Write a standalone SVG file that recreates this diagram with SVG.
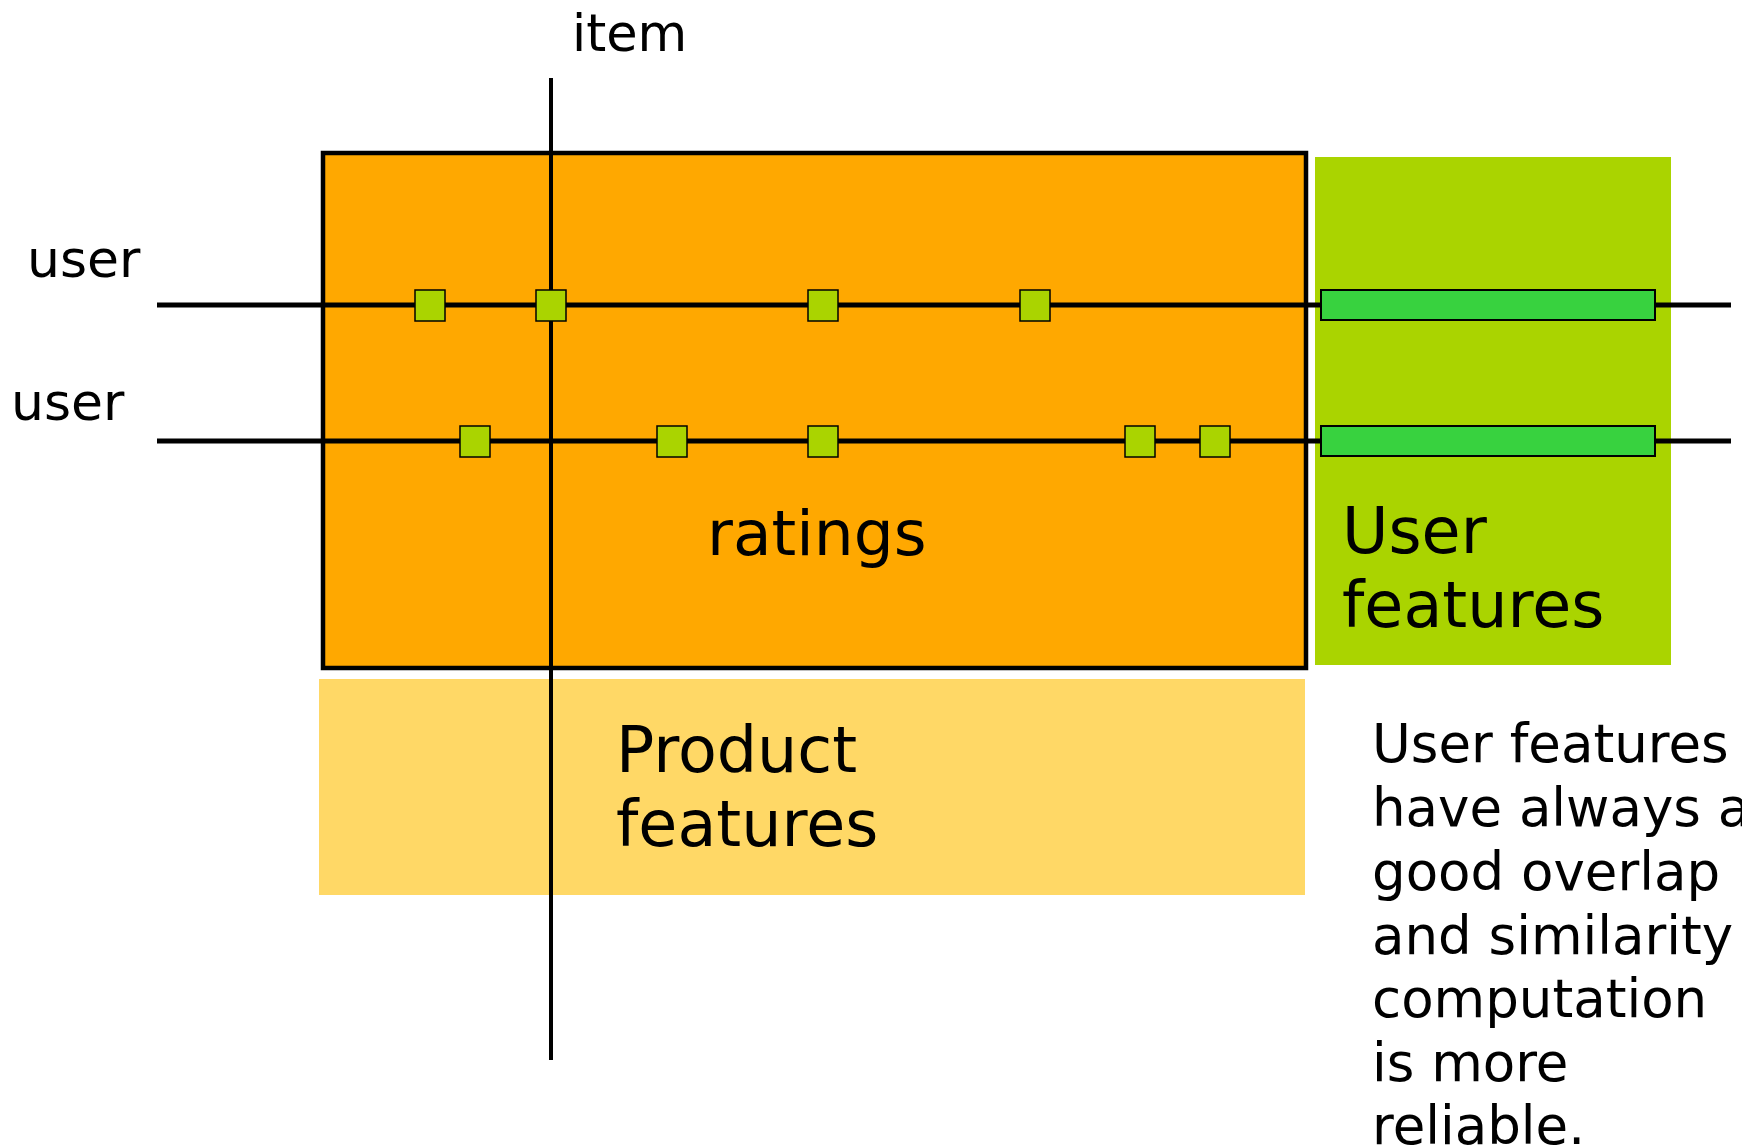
<svg xmlns="http://www.w3.org/2000/svg" width="1742" height="1148" viewBox="0 0 1742 1148">
<style>
text{font-family:"DejaVu Sans","Verdana",sans-serif;fill:#000}
.ln{stroke:#000;stroke-width:5;fill:none}
.vl{stroke:#000;stroke-width:4;fill:none}
.sq{fill:#AAD400;stroke:#000;stroke-width:1.5}
.bar{fill:#38D23F;stroke:#000;stroke-width:2}
</style>
<rect width="1742" height="1148" fill="#fff"/>
<g id="product-features">
<rect x="319" y="679" width="986" height="216" fill="#FFD866"/>
<text x="616" y="772" font-size="63.5">Product</text>
<text x="616" y="846" font-size="63.5">features</text>
</g>
<g id="ratings">
<rect x="323" y="153" width="983" height="515" fill="#FFA800" stroke="#000" stroke-width="4.5"/>
<text x="707" y="555" font-size="63">ratings</text>
</g>
<g id="user-features">
<rect x="1315" y="157" width="356" height="508" fill="#AAD400"/>
<text x="1342" y="553" font-size="63.5">User</text>
<text x="1342" y="627" font-size="63.5">features</text>
</g>
<g id="connectors">
<line class="vl" x1="551" y1="78" x2="551" y2="1060"/>
<line class="ln" x1="157" y1="305" x2="1731" y2="305"/>
<line class="ln" x1="157" y1="441" x2="1731" y2="441"/>
</g>
<g id="user1-ratings">
<rect class="sq" x="415" y="290" width="30" height="31"/>
<rect class="sq" x="536" y="290" width="30" height="31"/>
<rect class="sq" x="808" y="290" width="30" height="31"/>
<rect class="sq" x="1020" y="290" width="30" height="31"/>
<rect class="bar" x="1321" y="290" width="334" height="30"/>
</g>
<g id="user2-ratings">
<rect class="sq" x="460" y="426" width="30" height="31"/>
<rect class="sq" x="657" y="426" width="30" height="31"/>
<rect class="sq" x="808" y="426" width="30" height="31"/>
<rect class="sq" x="1125" y="426" width="30" height="31"/>
<rect class="sq" x="1200" y="426" width="30" height="31"/>
<rect class="bar" x="1321" y="426" width="334" height="30"/>
</g>
<g id="labels">
<text x="572" y="51" font-size="51">item</text>
<text x="27" y="277" font-size="52">user</text>
<text x="11" y="420" font-size="52">user</text>
</g>
<g id="note">
<text font-size="53">
<tspan x="1372" y="762">User features</tspan>
<tspan x="1372" y="826">have always a</tspan>
<tspan x="1372" y="890">good overlap</tspan>
<tspan x="1372" y="954">and similarity</tspan>
<tspan x="1372" y="1017">computation</tspan>
<tspan x="1372" y="1081">is more</tspan>
<tspan x="1372" y="1144">reliable.</tspan>
</text>
</g>
</svg>
